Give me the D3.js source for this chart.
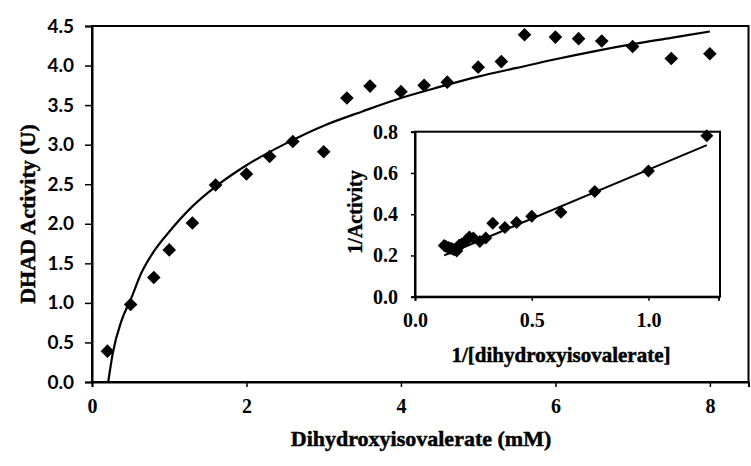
<!DOCTYPE html>
<html><head><meta charset="utf-8">
<script src="https://cdn.jsdelivr.net/npm/d3@7"></script>
<style>body{margin:0;background:#fff}svg{display:block}</style>
</head><body><svg id="c" width="751" height="466"></svg>
<script>
// Main plot: substrate (mM) vs DHAD activity (U)
const substrateMM = [0.2,0.5,0.8,1.0,1.3,1.6,2.0,2.3,2.6,3.0,3.3,3.6,4.0,4.3,4.6,5.0,5.3,5.6,6.0,6.3,6.6,7.0,7.5,8.0];
const activityU   = [0.39,0.98,1.32,1.67,2.01,2.49,2.63,2.85,3.04,2.91,3.59,3.74,3.67,3.75,3.79,3.98,4.05,4.39,4.36,4.34,4.31,4.24,4.09,4.15];
// Fitted curve
const fitX = [0.21,0.27,0.38,0.5,0.64,0.8,1.0,1.3,1.6,2.0,2.5,3.0,3.5,4.0,4.5,5.0,5.5,6.0,6.5,7.0,7.5,8.0];
const fitY = [0.0,0.37,0.77,1.04,1.38,1.65,1.90,2.22,2.47,2.74,3.01,3.24,3.42,3.59,3.73,3.86,3.97,4.08,4.18,4.27,4.35,4.43];
const mainYTicks = [0,0.5,1,1.5,2,2.5,3,3.5,4,4.5];
const mainXTicks = [0,2,4,6,8];

// Inset: double reciprocal plot
const invSubstrate = [1.25,1.0,0.77,0.625,0.5,0.435,0.385,0.333,0.303,0.278,0.25,0.233,0.217,0.2,0.189,0.179,0.167,0.159,0.152,0.143,0.133,0.125];
const invActivity  = [0.78,0.61,0.51,0.41,0.39,0.36,0.335,0.356,0.285,0.268,0.285,0.29,0.27,0.255,0.25,0.222,0.228,0.232,0.235,0.238,0.244,0.248];
const lineX = [0.125,1.25];
const lineY = [0.20,0.735];
const insetYTicks = [0,0.2,0.4,0.6,0.8];
const insetXTicks = [0,0.5,1.0];

const svg = d3.select("#c");
const serif = "'Liberation Serif','Times New Roman',serif";
const sans = "Lato,'DejaVu Sans',sans-serif";

const x = d3.scaleLinear().domain([0,8.5]).range([92,748.5]);
const y = d3.scaleLinear().domain([0,4.5]).range([382,26]);

// frame
svg.append("rect").attr("x",x(0)).attr("y",y(4.5)).attr("width",x(8.5)-x(0)).attr("height",y(0)-y(4.5))
  .attr("fill","none").attr("stroke","#000").attr("stroke-width",2);

const gy = svg.append("g").attr("transform",`translate(${x(0)},0)`)
  .call(d3.axisLeft(y).tickValues(mainYTicks).tickSize(7).tickPadding(11).tickFormat(d3.format(".1f")));
gy.selectAll("text").attr("font-family",sans).attr("font-weight","bold").attr("font-size",19).attr("fill","#000");
const gx = svg.append("g").attr("transform",`translate(0,${y(0)})`)
  .call(d3.axisBottom(x).tickValues(mainXTicks).tickSize(5).tickPadding(12).tickFormat(d3.format("d")));
gx.selectAll("text").attr("font-family",serif).attr("font-weight","bold").attr("font-size",20).attr("fill","#000");
[gx,gy].forEach(g=>{g.select(".domain").attr("stroke-width",2);g.selectAll(".tick line").attr("stroke-width",1.5);});

const diamond = r => `M0,${-r}L${r},0L0,${r}L${-r},0Z`;

const fitData = fitX.map((v,i)=>[v,fitY[i]]);
svg.append("path").datum(fitData).attr("fill","none").attr("stroke","#000").attr("stroke-width",2.2)
  .attr("d",d3.line().x(d=>x(d[0])).y(d=>y(d[1])).curve(d3.curveMonotoneX));

svg.append("g").selectAll("path").data(substrateMM.map((v,i)=>[v,activityU[i]])).join("path")
  .attr("d",diamond(6.8)).attr("transform",d=>`translate(${x(d[0])},${y(d[1])})`).attr("fill","#000");

svg.append("text").attr("x",421).attr("y",446).attr("text-anchor","middle")
  .attr("font-family",serif).attr("font-weight","bold").attr("font-size",22).attr("stroke","#000").attr("stroke-width",0.5)
  .text("Dihydroxyisovalerate (mM)");
svg.append("text").attr("transform","translate(35,214) rotate(-90)").attr("text-anchor","middle")
  .attr("font-family",serif).attr("font-weight","bold").attr("font-size",22).attr("stroke","#000").attr("stroke-width",0.5)
  .text("DHAD Activity (U)");

// Inset
const ix = d3.scaleLinear().domain([0,1.3]).range([415,718.5]);
const iy = d3.scaleLinear().domain([0,0.8]).range([296.7,131.7]);
svg.append("rect").attr("x",ix(0)).attr("y",iy(0.8)).attr("width",720-ix(0)).attr("height",iy(0)-iy(0.8))
  .attr("fill","#fff").attr("stroke","#000").attr("stroke-width",2);
const igy = svg.append("g").attr("transform",`translate(${ix(0)},0)`)
  .call(d3.axisLeft(iy).tickValues(insetYTicks).tickSize(4).tickPadding(13).tickFormat(d3.format(".1f")));
const igx = svg.append("g").attr("transform",`translate(0,${iy(0)})`)
  .call(d3.axisBottom(ix).tickValues(insetXTicks).tickSize(4).tickPadding(12).tickFormat(d3.format(".1f")));
[igx,igy].forEach(g=>{
  g.selectAll("text").attr("font-family",serif).attr("font-weight","bold").attr("font-size",20).attr("fill","#000");
  g.select(".domain").attr("stroke-width",2);g.selectAll(".tick line").attr("stroke-width",1.5);
});
svg.append("path").datum(lineX.map((v,i)=>[v,lineY[i]])).attr("fill","none").attr("stroke","#000").attr("stroke-width",2)
  .attr("d",d3.line().x(d=>ix(d[0])).y(d=>iy(d[1])));
svg.append("g").selectAll("path").data(invSubstrate.map((v,i)=>[v,invActivity[i]])).join("path")
  .attr("d",diamond(6.5)).attr("transform",d=>`translate(${ix(d[0])},${iy(d[1])})`).attr("fill","#000");

svg.append("text").attr("x",561).attr("y",362).attr("text-anchor","middle")
  .attr("font-family",serif).attr("font-weight","bold").attr("font-size",21).attr("stroke","#000").attr("stroke-width",0.5)
  .text("1/[dihydroxyisovalerate]");
svg.append("text").attr("transform","translate(362,212) rotate(-90)").attr("text-anchor","middle")
  .attr("font-family",serif).attr("font-weight","bold").attr("font-size",20).attr("stroke","#000").attr("stroke-width",0.4)
  .text("1/Activity");
</script></body></html>
